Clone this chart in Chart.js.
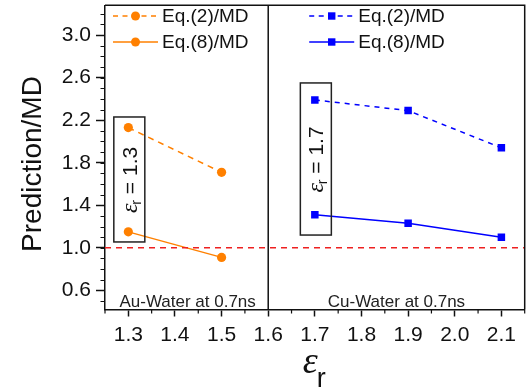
<!DOCTYPE html>
<html><head><meta charset="utf-8">
<script src="https://cdn.jsdelivr.net/npm/chart.js@4/dist/chart.umd.min.js"></script>
<style>html,body{margin:0;padding:0;background:#fff}#wrap{width:530px;height:392px}</style>
</head><body><div id="wrap"><canvas id="c" width="530" height="392"></canvas></div>
<script>
// ---- data ----
const auX = [1.3, 1.5];
const auEq2 = [2.13, 1.71];
const auEq8 = [1.15, 0.91];
const cuX = [1.7, 1.9, 2.1];
const cuEq2 = [2.39, 2.29, 1.94];
const cuEq8 = [1.31, 1.23, 1.10];
const refX = [1.25, 2.15];
const refY = [1.0, 1.0];
const xTicks = [1.3, 1.4, 1.5, 1.6, 1.7, 1.8, 1.9, 2.0, 2.1];
const yTicks = [0.6, 1.0, 1.4, 1.8, 2.2, 2.6, 3.0];
const seriesNames = ['Eq.(2)/MD', 'Eq.(8)/MD'];
const panelLabels = ['Au-Water at 0.7ns', 'Cu-Water at 0.7ns'];
const boxEps = ['1.3', '1.7'];

const ORANGE = '#ff8000', BLUE = '#0000ff', RED = '#ee2020';
const pts = (xs, ys) => xs.map((x, i) => ({x, y: ys[i]}));

// annotation layout (not data)
const boxes = [
  {x: 1.3, top: 2.23, bottom: 1.055, label: boxEps[0]},
  {x: 1.7, top: 2.55, bottom: 1.12, label: boxEps[1]}
];

const overlay = {
  id: 'overlay',
  afterDraw(chart) {
    const ctx = chart.ctx, xs = chart.scales.x, ys = chart.scales.y, a = chart.chartArea;
    ctx.save();
    // frame top/right + divider
    ctx.strokeStyle = '#111'; ctx.lineWidth = 1.5;
    ctx.beginPath();
    ctx.moveTo(a.left, a.top); ctx.lineTo(a.right, a.top); ctx.lineTo(a.right, a.bottom);
    const xd = xs.getPixelForValue(1.6);
    ctx.moveTo(xd, a.top); ctx.lineTo(xd, a.bottom);
    ctx.stroke();
    // minor ticks
    ctx.lineWidth = 1.2;
    ctx.beginPath();
    for (let v = 0.5; v <= 3.25; v += 0.1) {
      const y = Math.round(ys.getPixelForValue(v)) + 0.5;
      if (y < a.top || y > a.bottom) continue;
      ctx.moveTo(a.left, y); ctx.lineTo(a.left - 4.5, y);
    }
    for (let v = 1.25; v <= 2.151; v += 0.1) {
      const x = xs.getPixelForValue(v);
      ctx.moveTo(x, a.bottom); ctx.lineTo(x, a.bottom + 4);
    }
    ctx.stroke();

    // y title
    ctx.fillStyle = '#111';
    ctx.font = '28px "Liberation Sans", Arial, sans-serif';
    ctx.textAlign = 'center'; ctx.textBaseline = 'middle';
    ctx.save(); ctx.translate(33, 164); ctx.rotate(-Math.PI / 2);
    ctx.fillText('Prediction/MD', 0, 0); ctx.restore();

    // x title epsilon_r
    const cx = (a.left + a.right) / 2;
    ctx.textAlign = 'left'; ctx.textBaseline = 'alphabetic';
    ctx.font = 'italic 38px "Liberation Serif", "DejaVu Serif", serif';
    const ew = ctx.measureText('ε').width;
    ctx.font = '27px "Liberation Sans", Arial, sans-serif';
    const rw = ctx.measureText('r').width;
    const sx = cx - (ew + rw) / 2;
    ctx.font = 'italic 38px "Liberation Serif", "DejaVu Serif", serif';
    ctx.fillText('ε', sx, 373);
    ctx.font = '27px "Liberation Sans", Arial, sans-serif';
    ctx.fillText('r', sx + ew - 1, 387);

    // panel labels
    ctx.font = '17px "Liberation Sans", Arial, sans-serif';
    ctx.textAlign = 'center';
    ctx.fillStyle = '#222';
    ctx.fillText(panelLabels[0], (a.left + xd) / 2 + 1, 307);
    ctx.fillText(panelLabels[1], (xd + a.right) / 2, 307);

    // boxes
    boxes.forEach(b => {
      const bx = xs.getPixelForValue(b.x), t = ys.getPixelForValue(b.top), bt = ys.getPixelForValue(b.bottom);
      ctx.strokeStyle = '#222'; ctx.lineWidth = 1.5;
      ctx.strokeRect(bx - 14.5, t, 31, bt - t);
      ctx.save();
      ctx.translate(bx + 1.5, (t + bt) / 2); ctx.rotate(-Math.PI / 2);
      ctx.fillStyle = '#111';
      ctx.font = 'italic 24px "Liberation Serif", "DejaVu Serif", serif';
      const w1 = ctx.measureText('ε').width;
      ctx.font = '14px "Liberation Sans", Arial, sans-serif';
      const w2 = ctx.measureText('r').width;
      ctx.font = '21px "Liberation Sans", Arial, sans-serif';
      const rest = ' = ' + b.label;
      const w3 = ctx.measureText(rest).width;
      let px = -(w1 + w2 + w3) / 2;
      ctx.textAlign = 'left'; ctx.textBaseline = 'alphabetic';
      ctx.font = 'italic 24px "Liberation Serif", "DejaVu Serif", serif';
      ctx.fillText('ε', px, 7); px += w1 - 1;
      ctx.font = '14px "Liberation Sans", Arial, sans-serif';
      ctx.fillText('r', px, 11); px += w2;
      ctx.font = '21px "Liberation Sans", Arial, sans-serif';
      ctx.fillText(rest, px, 7);
      ctx.restore();
    });

    // legends
    const legend = (x0, color, style, radius) => {
      [0, 1].forEach(i => {
        const y = 16 + i * 26;
        ctx.strokeStyle = color; ctx.lineWidth = 1.5;
        ctx.setLineDash(i === 0 ? [5, 4.5] : []);
        ctx.beginPath(); ctx.moveTo(x0, y); ctx.lineTo(x0 + 45, y); ctx.stroke();
        ctx.setLineDash([]);
        ctx.fillStyle = color;
        if (style === 'circle') { ctx.beginPath(); ctx.arc(x0 + 22.5, y, radius, 0, Math.PI * 2); ctx.fill(); }
        else ctx.fillRect(x0 + 22.5 - 3.7, y - 3.7, 7.4, 7.4);
        ctx.fillStyle = '#111';
        ctx.font = '19px "Liberation Sans", Arial, sans-serif';
        ctx.textAlign = 'left'; ctx.textBaseline = 'middle';
        ctx.fillText(seriesNames[i], x0 + 49, y + 1);
      });
    };
    legend(a.left + 8, ORANGE, 'circle', 4.5);
    legend(xd + 41, BLUE, 'rect', 4);
    ctx.restore();
  }
};

new Chart(document.getElementById('c'), {
  type: 'scatter',
  data: {
    datasets: [
      {data: pts(refX, refY), showLine: true, borderColor: RED, borderWidth: 1.5, borderDash: [6, 5], pointRadius: 0},
      {label: seriesNames[0], data: pts(auX, auEq2), showLine: true, borderColor: ORANGE, backgroundColor: ORANGE, borderWidth: 1.5, borderDash: [6, 5], pointRadius: 4.6, pointBorderWidth: 0},
      {label: seriesNames[1], data: pts(auX, auEq8), showLine: true, borderColor: ORANGE, backgroundColor: ORANGE, borderWidth: 1.5, pointRadius: 4.6, pointBorderWidth: 0},
      {label: seriesNames[0], data: pts(cuX, cuEq2), showLine: true, borderColor: BLUE, backgroundColor: BLUE, borderWidth: 1.5, borderDash: [5, 5], pointStyle: 'rect', pointRadius: 5.3, pointBorderWidth: 0},
      {label: seriesNames[1], data: pts(cuX, cuEq8), showLine: true, borderColor: BLUE, backgroundColor: BLUE, borderWidth: 1.5, pointStyle: 'rect', pointRadius: 5.3, pointBorderWidth: 0}
    ]
  },
  options: {
    responsive: false, animation: false, devicePixelRatio: 1,
    layout: {padding: {top: 3, right: 5, left: 0, bottom: 0}},
    plugins: {legend: {display: false}, tooltip: {enabled: false}},
    scales: {
      x: {
        type: 'linear', min: 1.25, max: 2.15,
        afterBuildTicks: s => { s.ticks = xTicks.map(v => ({value: v})); },
        afterFit: s => { s.height = 82.5; s.paddingLeft = 0; s.paddingRight = 0; },
        grid: {drawOnChartArea: false, drawTicks: true, tickLength: 7, color: '#111', tickWidth: 1.5},
        border: {display: true, color: '#111', width: 1.5},
        ticks: {padding: 6, color: '#111', font: {size: 21, family: '"Liberation Sans", Arial, sans-serif'}, maxRotation: 0, autoSkip: false, callback: v => v.toFixed(1)}
      },
      y: {
        type: 'linear', min: 0.42, max: 3.28,
        afterBuildTicks: s => { s.ticks = yTicks.map(v => ({value: v})); },
        afterFit: s => { s.width = 105; s.paddingTop = 0; s.paddingBottom = 0; },
        grid: {drawOnChartArea: false, drawTicks: true, tickLength: 9, color: '#111', tickWidth: 1.5},
        border: {display: true, color: '#111', width: 1.5},
        ticks: {padding: 5, color: '#111', font: {size: 21, family: '"Liberation Sans", Arial, sans-serif'}, autoSkip: false, callback: v => v.toFixed(1)}
      }
    }
  },
  plugins: [overlay]
});
</script>
</body></html>
